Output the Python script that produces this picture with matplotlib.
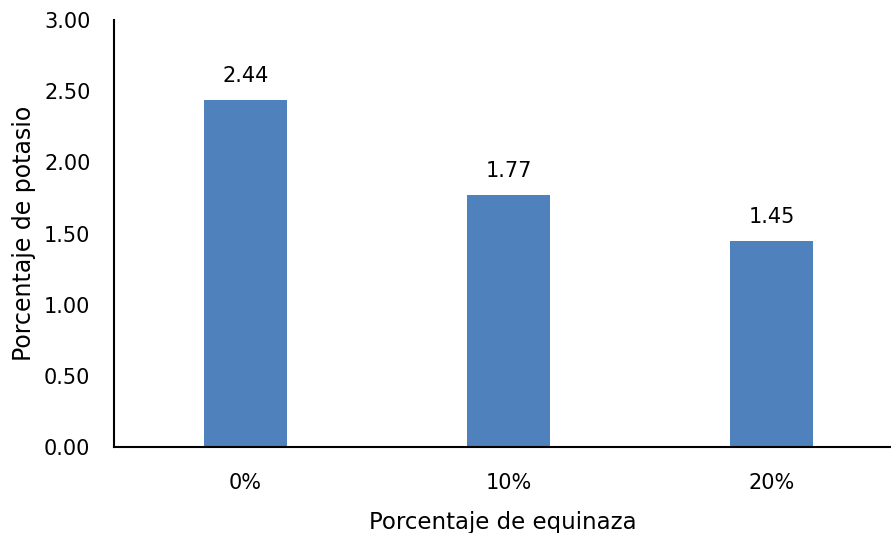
import matplotlib
matplotlib.use("Agg")
import matplotlib.pyplot as plt

categories = ["0%", "10%", "20%"]
values = [2.44, 1.77, 1.45]
yticks = [0.0, 0.5, 1.0, 1.5, 2.0, 2.5, 3.0]

plt.rcParams['font.family'] = ['DejaVu Sans']
fig = plt.figure(figsize=(8.91, 5.33), dpi=100)
ax = fig.add_axes([114/891, 1-447/533, 1-114/891, (447-20)/533])

x = list(range(len(categories)))
ax.bar(x, values, width=0.315, color="#4F81BD")
for xi, v in zip(x, values):
    ax.annotate(f"{v:.2f}", (xi, v), xytext=(0, 10), textcoords="offset points",
                ha="center", va="bottom", fontsize=15)

ax.set_xlim(-0.5, (891-114)/263 - 0.5)
ax.set_ylim(0, 3.0)
ax.set_yticks(yticks)
ax.set_yticklabels([f"{t:.2f}" for t in yticks], fontsize=15)
ax.set_xticks(x)
ax.set_xticklabels(categories, fontsize=15)
ax.tick_params(axis='both', length=0)
ax.tick_params(axis='y', pad=17)
ax.tick_params(axis='x', pad=19)
for s in ["top", "right"]:
    ax.spines[s].set_visible(False)
ax.spines["left"].set_linewidth(1.5)
ax.spines["bottom"].set_linewidth(1.5)
ax.set_xlabel("Porcentaje de equinaza", fontsize=16.5, labelpad=13)
ax.set_ylabel("Porcentaje de potasio", fontsize=17, labelpad=6)

fig.savefig("out.png", dpi=100)
